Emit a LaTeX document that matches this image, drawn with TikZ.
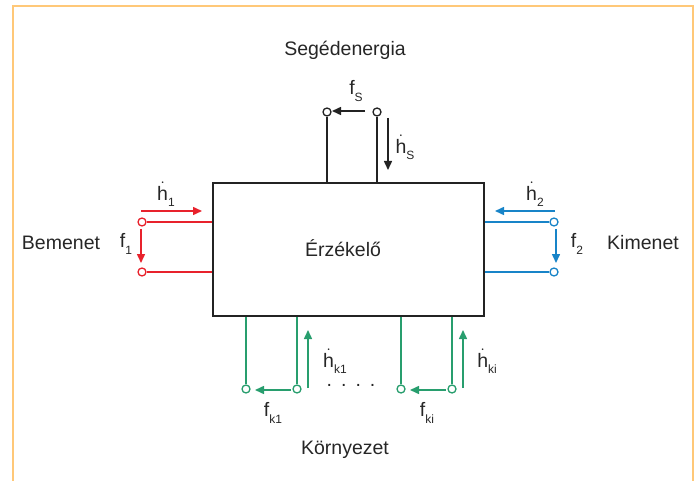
\documentclass[tikz,border=0pt]{standalone}
\usepackage{fontspec}
\setmainfont{Liberation Sans}
\usetikzlibrary{arrows.meta}
\definecolor{frameor}{RGB}{255,200,120}
\definecolor{inred}{RGB}{232,34,44}
\definecolor{outblue}{RGB}{24,132,200}
\definecolor{envgreen}{RGB}{40,158,110}
\definecolor{lineblk}{RGB}{35,35,35}
% dotted h (flow rate) and lowered subscript
\newcommand\hdot{$\dot{\mbox{h}}$}
\newcommand\sbx[1]{\raisebox{-0.6ex}{\fontsize{12}{12}\selectfont #1}}
\begin{document}
\begin{tikzpicture}[x=1pt,y=-1pt,
  every node/.style={font=\fontsize{19.5}{23}\selectfont, text=black!85},
  port/.style={circle, draw, fill=white, inner sep=0pt, minimum size=8pt, line width=1.3pt},
  wire/.style={line width=1.5pt},
  flow/.style={line width=1.5pt, -{Triangle[length=9pt,width=8pt]}},
  lbl/.style={inner sep=0pt}]
\useasboundingbox (0,0) rectangle (696,481);
% frame
\draw[frameor, line width=2.5pt] (13,490) -- (13,6) -- (693,6) -- (693,490);

% sensor block
\node[draw=lineblk, line width=1.5pt, minimum width=271pt, minimum height=133pt, inner sep=0pt]
  (box) at (348.5,249.5) {};
\node[lbl] (name) at (343,248) {Érzékelő};

% auxiliary energy (top)
\node[lbl] (aux) at (345,50) {Segédenergia};
\node[port, draw=lineblk] (sa) at (327,112) {};
\node[port, draw=lineblk] (sb) at (377,112) {};
\draw[wire, lineblk] (sa) -- (sa |- box.north);
\draw[wire, lineblk] (sb) -- (sb |- box.north);
\coordinate (fs1) at (365,111);
\coordinate (fs2) at (332,111);
\draw[flow, lineblk] (fs1) -- (fs2);
\coordinate (hs1) at (388,118);
\coordinate (hs2) at (388,170);
\draw[flow, lineblk] (hs1) -- (hs2);
\node[lbl] (fsl) at (356,91) {f\sbx{S}};
\node[lbl] (hsl) at (405,147) {\hdot\sbx{S}};

% input (left, red)
\node[lbl] (inp) at (61,243) {Bemenet};
\node[port, draw=inred] (ia) at (142,222) {};
\node[port, draw=inred] (ib) at (142,272) {};
\draw[wire, inred] (ia) -- (ia -| box.west);
\draw[wire, inred] (ib) -- (ib -| box.west);
\coordinate (h1a) at (141,211);
\coordinate (h1b) at (202,211);
\draw[flow, inred] (h1a) -- (h1b);
\coordinate (f1a) at (141,229);
\coordinate (f1b) at (141,263);
\draw[flow, inred] (f1a) -- (f1b);
\node[lbl] (h1l) at (166,194) {\hdot\sbx{1}};
\node[lbl] (f1l) at (126,244) {f\sbx{1}};

% output (right, blue)
\node[lbl] (outp) at (643,243) {Kimenet};
\node[port, draw=outblue] (oa) at (554,222) {};
\node[port, draw=outblue] (ob) at (554,272) {};
\draw[wire, outblue] (oa) -- (oa -| box.east);
\draw[wire, outblue] (ob) -- (ob -| box.east);
\coordinate (h2a) at (555,211);
\coordinate (h2b) at (495,211);
\draw[flow, outblue] (h2a) -- (h2b);
\coordinate (f2a) at (556,229);
\coordinate (f2b) at (556,263);
\draw[flow, outblue] (f2a) -- (f2b);
\node[lbl] (h2l) at (535,194) {\hdot\sbx{2}};
\node[lbl] (f2l) at (577,244) {f\sbx{2}};

% environment (bottom, green)
\node[lbl] (env) at (345,450) {Környezet};
\node[port, draw=envgreen] (ka) at (246,389) {};
\node[port, draw=envgreen] (kb) at (297,389) {};
\node[port, draw=envgreen] (kc) at (401,389) {};
\node[port, draw=envgreen] (kd) at (452,389) {};
\foreach \p in {ka,kb,kc,kd}
  \draw[wire, envgreen] (\p) -- (\p |- box.south);
\coordinate (fk1a) at (291,390);
\coordinate (fk1b) at (255,390);
\draw[flow, envgreen] (fk1a) -- (fk1b);
\coordinate (fkia) at (446,390);
\coordinate (fkib) at (410,390);
\draw[flow, envgreen] (fkia) -- (fkib);
\coordinate (hk1a) at (308,388);
\coordinate (hk1b) at (308,330);
\draw[flow, envgreen] (hk1a) -- (hk1b);
\coordinate (hkia) at (463,388);
\coordinate (hkib) at (463,330);
\draw[flow, envgreen] (hkia) -- (hkib);
\node[lbl] (hk1l) at (335,361) {\hdot\sbx{k1}};
\node[lbl] (hkil) at (487,361) {\hdot\sbx{ki}};
\node[lbl] (fk1l) at (273,413) {f\sbx{k1}};
\node[lbl] (fkil) at (427,413) {f\sbx{ki}};
\node[lbl] (dots) at (351,385) {.\hspace{9pt}.\hspace{9pt}.\hspace{9pt}.};
\end{tikzpicture}
\end{document}
